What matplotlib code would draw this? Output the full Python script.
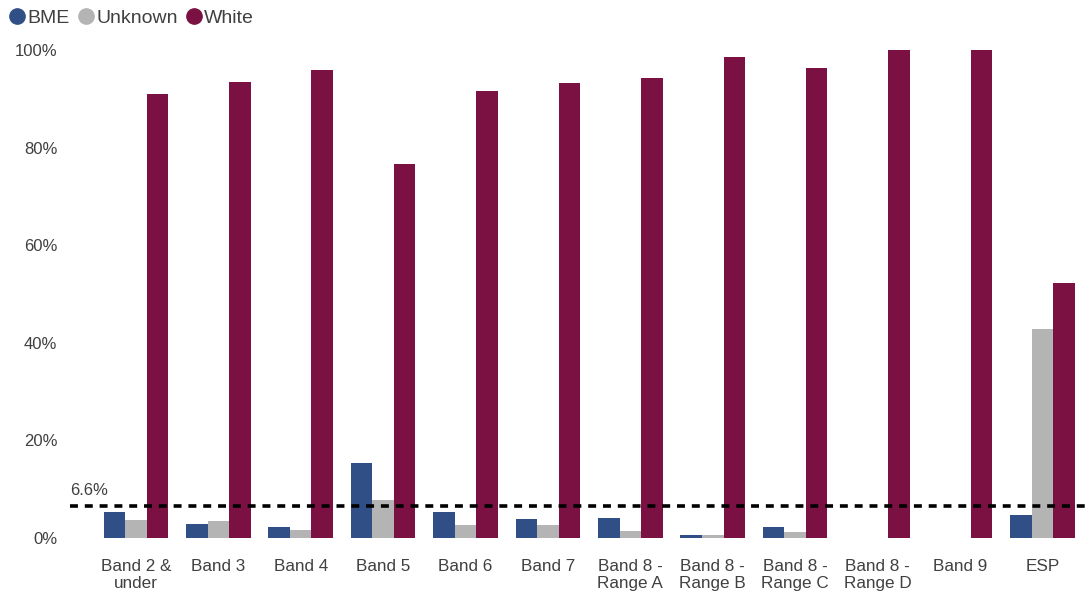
import numpy as np
import matplotlib.pyplot as plt
from matplotlib.lines import Line2D

plt.rcParams['font.family'] = ['Liberation Sans', 'DejaVu Sans']

# === DATA ===
bands = ["Band 2 &\nunder", "Band 3", "Band 4", "Band 5", "Band 6", "Band 7",
         "Band 8 -\nRange A", "Band 8 -\nRange B", "Band 8 -\nRange C",
         "Band 8 -\nRange D", "Band 9", "ESP"]
bme     = [5.3, 2.9, 2.3, 15.4, 5.3, 3.9, 4.1, 0.6, 2.3, 0.0, 0.0, 4.7]
unknown = [3.7, 3.5, 1.6, 7.8, 2.7, 2.7, 1.4, 0.6, 1.2, 0.0, 0.0, 42.8]
white   = [91.0, 93.4, 95.9, 76.6, 91.6, 93.2, 94.3, 98.6, 96.3, 100.0, 100.0, 52.3]
benchmark = 6.6

# === STYLE ===
C_BME, C_UNK, C_WHITE = "#2F4F86", "#B4B4B4", "#7A1142"
TXT = "#404040"
BAR_W = 0.261

fig = plt.figure(figsize=(10.91, 5.96), dpi=100)
ax = fig.add_axes([70 / 1091, 58 / 596, 1021 / 1091, 488 / 596])

x = np.arange(len(bands))
ax.bar(x - BAR_W, bme, BAR_W, color=C_BME)
ax.bar(x, unknown, BAR_W, color=C_UNK)
ax.bar(x + BAR_W, white, BAR_W, color=C_WHITE)

ax.set_xlim(-0.80, 11.59)
ax.set_ylim(0, 100)

# benchmark line with its label
ax.axhline(benchmark, color="black", lw=2.6, ls=(0, (2.2, 1.9)), zorder=5)
ax.text(-0.80, benchmark + 1.6, f"{benchmark}%", color=TXT, fontsize=12,
        ha="left", va="bottom")

ax.set_yticks(np.arange(0, 101, 20))
ax.set_yticklabels([f"{v}%" for v in range(0, 101, 20)])
ax.set_xticks(x)
ax.set_xticklabels(bands, linespacing=1.15)
ax.tick_params(axis="y", length=0, pad=9, labelsize=12, labelcolor=TXT)
ax.tick_params(axis="x", length=0, pad=15, labelsize=12.3, labelcolor=TXT)
for s in ax.spines.values():
    s.set_visible(False)

handles = [Line2D([], [], ls="", marker="o", ms=11, color=c)
           for c in (C_BME, C_UNK, C_WHITE)]
fig.legend(handles, ["BME", "Unknown", "White"], loc="upper left",
           bbox_to_anchor=(10 / 1091, 1 - 9 / 596), ncol=3, frameon=False,
           fontsize=14, handlelength=0.75, handletextpad=0.15,
           columnspacing=0.45, borderpad=0, borderaxespad=0,
           labelcolor=TXT)

fig.savefig("out.png", dpi=100)
